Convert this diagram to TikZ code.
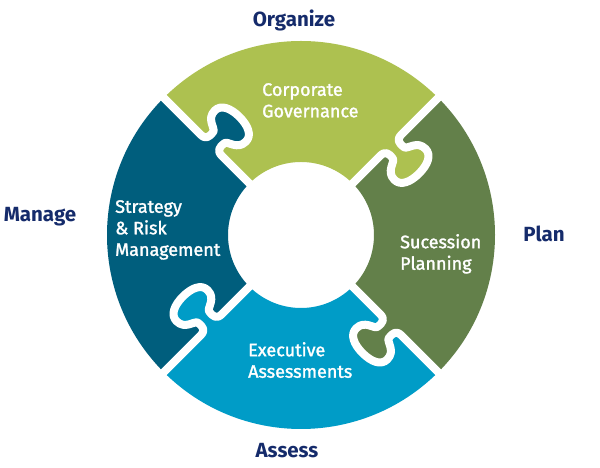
\documentclass[tikz,border=0pt]{standalone}
\usepackage{fontspec}
\setmainfont{Fira Sans}
\newfontfamily\pcfont{Fira Sans}[FakeBold=1.6]
\definecolor{pcLime}{HTML}{ADC150}
\definecolor{pcOlive}{HTML}{63804A}
\definecolor{pcBlue}{HTML}{009CC7}
\definecolor{pcTeal}{HTML}{005E7D}
\definecolor{lblNavy}{HTML}{152B6B}
\begin{document}
\begin{tikzpicture}[x=1pt,y=1pt,
  lbl/.style={text=lblNavy, font=\fontsize{20.5}{24}\selectfont\bfseries, inner sep=0pt, anchor=base},
  ptxt/.style={text=white, font=\pcfont\fontsize{18}{21.5}\selectfont, align=left, inner sep=0pt, anchor=north west},
  gap/.style={draw=white, line width=8pt, line join=round}]
\useasboundingbox (0,0) rectangle (600,468);
\fill[white] (0,0) rectangle (600,468);
\foreach \a/\c in {45/pcLime,-45/pcOlive,-135/pcBlue,135/pcTeal} {
  \begin{scope}[shift={(301,233)}, rotate=\a]
  \fill[\c] (73,0) -- (112,0)
    .. controls (119,0) and (120,-4) .. (119,-11)
    .. controls (118,-15) and (105,-15) .. (105,-27)
    .. controls (105,-36) and (115,-40) .. (127,-40)
    .. controls (139,-40) and (149,-36) .. (149,-27)
    .. controls (149,-15) and (136,-15) .. (135,-11)
    .. controls (134,-4) and (135,0) .. (142,0)
    -- (194,0) arc[start angle=0, end angle=90, radius=194pt]
    -- (0,142)
    .. controls (0,135) and (4,134) .. (11,135)
    .. controls (15,136) and (15,149) .. (27,149)
    .. controls (36,149) and (40,139) .. (40,127)
    .. controls (40,115) and (36,105) .. (27,105)
    .. controls (15,105) and (15,118) .. (11,119)
    .. controls (4,120) and (0,119) .. (0,112)
    -- (0,73) arc[start angle=90, end angle=0, radius=73pt] -- cycle;
  \end{scope}
}
\foreach \a in {45,-45,-135,135} {
  \begin{scope}[shift={(301,233)}, rotate=\a]
  \draw[gap] (70,0) -- (112,0)
    .. controls (119,0) and (120,-4) .. (119,-11)
    .. controls (118,-15) and (105,-15) .. (105,-27)
    .. controls (105,-36) and (115,-40) .. (127,-40)
    .. controls (139,-40) and (149,-36) .. (149,-27)
    .. controls (149,-15) and (136,-15) .. (135,-11)
    .. controls (134,-4) and (135,0) .. (142,0)
    -- (200,0);
  \end{scope}
}
\node[ptxt] (cg) at (262,385) {Corporate\\Governance};
\node[ptxt] (srm) at (115,268) {Strategy\\\& Risk\\Management};
\node[ptxt] (sp) at (400,234) {Sucession\\Planning};
\node[ptxt] (ea) at (248,126) {Executive\\Assessments};
\node[lbl] (org) at (294,441) {Organize};
\node[lbl] (man) at (40,246) {Manage};
\node[lbl] (plan) at (544,226) {Plan};
\node[lbl] (ass) at (287,10) {Assess};
\end{tikzpicture}
\end{document}
